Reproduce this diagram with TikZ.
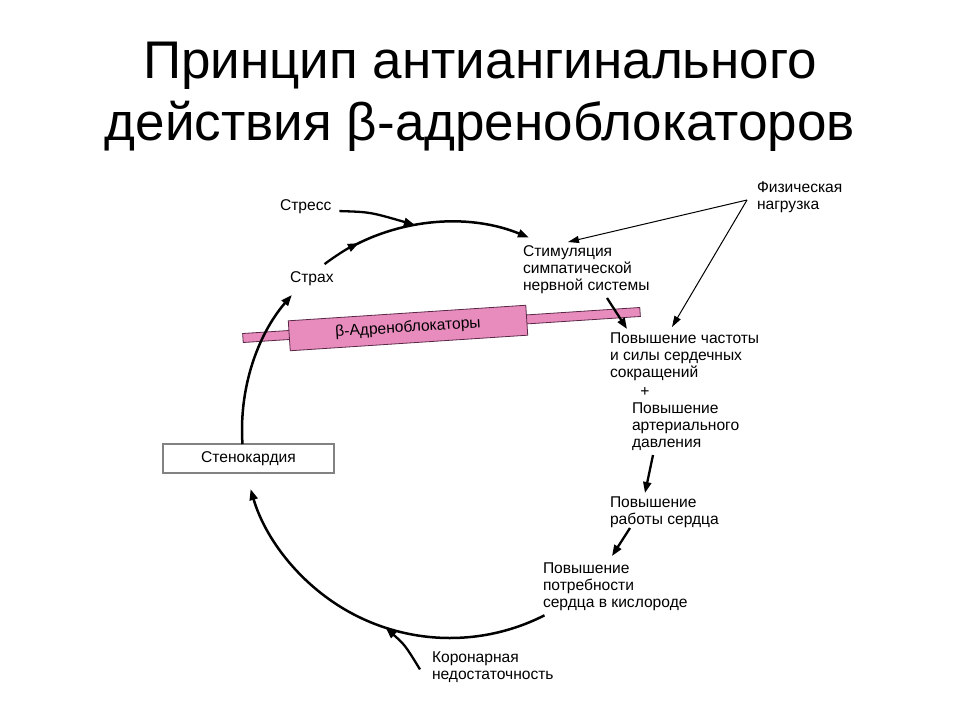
\documentclass[tikz,border=0pt]{standalone}
\usepackage{fontspec}
\setmainfont{Liberation Sans}
\usetikzlibrary{arrows.meta,calc}
\definecolor{pinkfill}{RGB}{232,140,190}
\definecolor{pinkedge}{RGB}{90,40,70}
\definecolor{boxedge}{RGB}{130,130,130}
\begin{document}
\begin{tikzpicture}[x=1pt,y=-1pt,
  lbl/.style={inner sep=0pt,outer sep=0pt,align=left,anchor=north west,
    font=\fontsize{15.6}{17}\selectfont},
  cyc/.style={line width=2.5pt,-{Triangle[length=11pt,width=8pt]}},
  thin/.style={line width=1pt,-{Triangle[length=11pt,width=7pt]}},
  mid/.style={line width=2.3pt,-{Triangle[length=11pt,width=8pt]}}]
\useasboundingbox (0,0) rectangle (960,720);
\fill[white] (0,0) rectangle (960,720);

% title
\node[inner sep=0pt,align=center,font=\fontsize{53}{62}\selectfont] (title) at (480,97)
  {Принцип антиангинального\\действия β-адреноблокаторов};

% circle centre
\coordinate (C) at (450,430);

% beta-blocker rod and box
\node[draw=pinkedge,fill=pinkfill,line width=0.8pt,minimum width=398pt,minimum height=9pt,
  inner sep=0pt,rotate=3.75] (rod) at (441.5,325) {};
\node[draw=pinkedge,fill=pinkfill,line width=0.8pt,minimum width=238pt,minimum height=30pt,
  inner sep=0pt,rotate=3.75,font=\fontsize{15.6}{17}\selectfont] (bb) at (408,328) {β-Адреноблокаторы};

% text nodes
\node[lbl] (stress) at (280,200) {Стресс};
\node[lbl] (fear) at (290,272) {Страх};
\node[lbl] (sns) at (523,246) {Стимуляция\\симпатической\\нервной системы};
\node[lbl] (phys) at (757,182) {Физическая\\нагрузка};
\node[lbl] (hr) at (610,333) {Повышение частоты\\и силы сердечных\\сокращений};
\node[inner sep=0pt,font=\fontsize{15.6}{17}\selectfont] (plus) at (645,392) {+};
\node[lbl] (bp) at (632,403) {Повышение\\артериального\\давления};
\node[lbl] (work) at (610,497) {Повышение\\работы сердца};
\node[lbl] (oxy) at (543,563) {Повышение\\потребности\\сердца в кислороде};
\node[lbl] (cor) at (432,652) {Коронарная\\недостаточность};
\node[draw=boxedge,line width=1.2pt,minimum width=171pt,minimum height=29pt,inner sep=0pt,
  font=\fontsize{15.6}{17}\selectfont] (angina) at (248.5,458.5) {Стенокардия};

% cycle arcs
\draw[cyc] ($(C)+(176.1:208)$) arc[start angle=176.1,end angle=220.5,radius=208];
\draw[mid] ($(C)+(232.9:208)$) arc[start angle=232.9,end angle=244,radius=208];
\draw[cyc] ($(C)+(243:208)$) arc[start angle=243,end angle=292.3,radius=208];
\draw[cyc] ($(C)+(63:208)$) arc[start angle=63,end angle=163.5,radius=208];

% feeding arrows
\coordinate (stressin) at ($(C)+(260.3:208)$);
\coordinate (corin) at ($(C)+(108:208)$);
\draw[mid] (stress.east) ++(8,4) coordinate (s0) .. controls (370,212) .. (stressin);
\draw[mid] (cor.west) ++(-12,2) coordinate (c0) .. controls (405,645) .. (corin);

\coordinate (physout) at (747,200);
\draw[thin] (physout) -- (568,242);
\draw[thin] (physout) -- (672,327);

\draw[mid] (607,298) -- (627,329);
\draw[mid] (653,455) -- (645,493);
\draw[mid] (630,528) -- (612,556);
\end{tikzpicture}
\end{document}
